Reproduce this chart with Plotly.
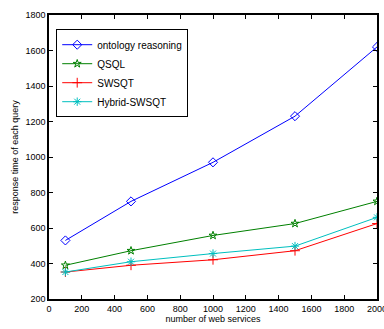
import plotly.graph_objects as go

x_services = [100, 500, 1000, 1500, 2000]
ontology = [530, 750, 970, 1230, 1620]
qsql = [390, 472, 558, 625, 750]
swsqt = [352, 390, 421, 472, 625]
hybrid = [352, 410, 456, 498, 660]

series = [
    ("ontology reasoning", ontology, "#0000ff", "diamond-open", 7),
    ("QSQL", qsql, "#008000", "star-open", 6),
    ("SWSQT", swsqt, "#ff0000", "cross-thin-open", 7),
    ("Hybrid-SWSQT", hybrid, "#00bfbf", "asterisk-open", 7),
]

FONT = "Liberation Sans"

fig = go.Figure()
for name, ys, col, sym, sz in series:
    fig.add_trace(go.Scatter(
        x=x_services, y=ys, name=name, mode="lines+markers",
        line=dict(color=col, width=1),
        marker=dict(symbol=sym, size=sz, color=col, line=dict(color=col, width=1)),
    ))

axis_common = dict(
    showgrid=False, zeroline=False, showline=True, linecolor="black", linewidth=1.5,
    mirror="ticks", ticks="inside", ticklen=4, tickcolor="black",
    tickfont=dict(family=FONT, size=9, color="black"),
    automargin=False, ticklabeloverflow="allow",
)
fig.update_xaxes(range=[0, 2000], dtick=200, tick0=0,
                 title=dict(text="number of web services", standoff=1,
                            font=dict(family=FONT, size=9, color="black")),
                 **axis_common)
fig.update_yaxes(range=[200, 1800], dtick=200, tick0=200,
                 title=dict(text="response time of each query", standoff=5,
                            font=dict(family=FONT, size=9, color="black")),
                 **axis_common)
fig.update_layout(
    width=384, height=329,
    margin=dict(l=49, r=7, t=15, b=30),
    paper_bgcolor="white", plot_bgcolor="white",
    legend=dict(x=0.022, y=0.95, xanchor="left", yanchor="top",
                bordercolor="black", borderwidth=1, bgcolor="white",
                font=dict(family=FONT, size=10, color="black"),
                tracegroupgap=0, itemwidth=30),
    showlegend=True,
)
fig.write_html("out.html", config={"displayModeBar": False},
               post_script="document.body.style.margin='0';document.body.style.overflow='hidden';")
